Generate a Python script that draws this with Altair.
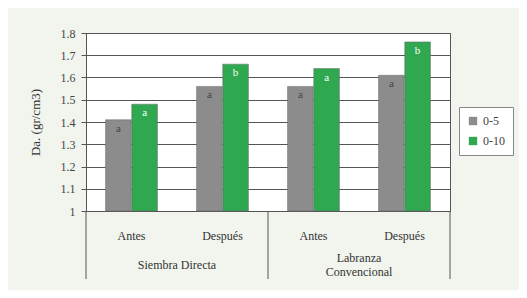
import altair as alt
import pandas as pd

groups = ["Siembra Directa", "Siembra Directa", "Labranza Convencional", "Labranza Convencional"]
moments = ["Antes", "Después", "Antes", "Después"]
series = ["0-5", "0-10"]
vals_05 = [1.41, 1.56, 1.56, 1.61]
vals_010 = [1.48, 1.66, 1.64, 1.76]
letters_05 = ["a", "a", "a", "a"]
letters_010 = ["a", "b", "a", "b"]
y_ticks = [1.0, 1.1, 1.2, 1.3, 1.4, 1.5, 1.6, 1.7, 1.8]
y_base = 1.0
group_label_1 = ["Siembra Directa"]
group_label_2 = ["Labranza", "Convencional"]
group_pos = [0.5, 1.5]
separators = [0, 1, 2]

rows = []
for i in range(4):
    cat = f"{groups[i]}|{moments[i]}"
    rows.append({"cat": cat, "serie": "0-5", "v": vals_05[i], "lab": letters_05[i]})
    rows.append({"cat": cat, "serie": "0-10", "v": vals_010[i], "lab": letters_010[i]})
df = pd.DataFrame(rows)
cats = [f"{g}|{m}" for g, m in zip(groups, moments)]

FONT = "Liberation Serif"
xscale = alt.Scale(domain=cats, paddingInner=0.43, paddingOuter=0.215)
yscale = alt.Scale(domain=[1.0, 1.8], nice=False, zero=False)
colors = alt.Scale(domain=series, range=["#8c8c8c", "#2fa84f"])

x_axis = alt.Axis(labelExpr="split(datum.label, '|')[1]", labelAngle=0,
                  labelFont=FONT, labelFontSize=12, labelColor="#333333",
                  labelPadding=19, ticks=False, domainColor="#555555", title=None)
y_axis = alt.Axis(values=y_ticks, labelOverlap=False,
                  labelExpr="datum.value == 1 ? '1' : format(datum.value, '.1f')",
                  labelFont=FONT, labelFontSize=12, labelColor="#444444",
                  title="Da. (gr/cm3)",
                  titleFont=FONT, titleFontSize=13, titleFontWeight="normal",
                  titleColor="#333333", titlePadding=18,
                  gridColor="#555555", gridWidth=1, tickColor="#555555",
                  tickSize=5, domainColor="#555555", labelPadding=6)

bars = alt.Chart(df).mark_bar(stroke="#666666", strokeWidth=0.5).encode(
    x=alt.X("cat:N", scale=xscale, sort=cats, axis=x_axis),
    xOffset=alt.XOffset("serie:N", sort=series, scale=alt.Scale(paddingInner=0.02)),
    y=alt.Y("v:Q", scale=yscale, axis=y_axis),
    y2=alt.datum(y_base),
    color=alt.Color("serie:N", scale=colors, sort=series,
                    legend=alt.Legend(title=None, orient="none", legendX=373, legendY=74,
                                      symbolType="square", symbolSize=70, symbolStrokeWidth=0,
                                      labelFont=FONT, labelFontSize=12, labelColor="#444444",
                                      strokeColor="#888888", padding=8, fillColor="#ffffff",
                                      rowPadding=8)),
)

letters = alt.Chart(df).mark_text(dy=9, font=FONT, fontSize=11).encode(
    x=alt.X("cat:N", scale=xscale, sort=cats, axis=x_axis),
    xOffset=alt.XOffset("serie:N", sort=series, scale=alt.Scale(paddingInner=0.02)),
    y=alt.Y("v:Q", scale=yscale, axis=y_axis),
    text="lab:N",
    color=alt.Color("serie:N", scale=alt.Scale(domain=series, range=["#444444", "#ffffff"]), legend=None),
)

base = alt.layer(bars, letters).resolve_scale(color="independent")

gscale = alt.Scale(domain=[0, 2], nice=False)
sep_df = pd.DataFrame({"p": separators})
seps = alt.Chart(sep_df).mark_rule(color="#555555", strokeWidth=1).encode(
    x=alt.X("p:Q", scale=gscale, axis=None),
    y=alt.value(178), y2=alt.value(246),
)

gl1 = alt.Chart(pd.DataFrame({"p": [group_pos[0]], "t": [group_label_1]})).mark_text(
    font=FONT, fontSize=12, color="#333333", baseline="middle").encode(
    x=alt.X("p:Q", scale=gscale, axis=None), y=alt.value(232), text="t")
gl2 = alt.Chart(pd.DataFrame({"p": [group_pos[1]], "t": [group_label_2]})).mark_text(
    font=FONT, fontSize=12, color="#333333", baseline="middle", lineHeight=14).encode(
    x=alt.X("p:Q", scale=gscale, axis=None), y=alt.value(225), text="t")

over = alt.layer(seps, gl1, gl2)

chart = alt.layer(base, over).resolve_scale(x="independent").properties(
    width=364, height=178,
    autosize=alt.AutoSizeParams(type="none"),
    padding={"left": 78, "top": 25, "right": 69, "bottom": 79},
    background="#f1f5ee",
).configure_view(fill="#ffffff", stroke="#555555")

chart.save("out.html", embed_options={"renderer": "svg", "actions": False})
